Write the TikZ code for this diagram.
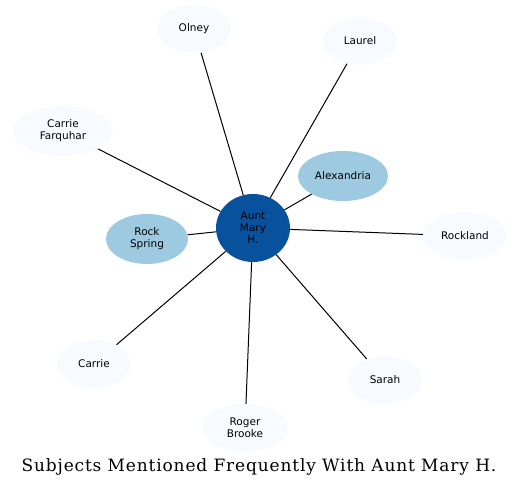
\documentclass[tikz,border=0pt]{standalone}
\usepackage{fontspec}
\setmainfont{DejaVu Serif}
\setsansfont{DejaVu Sans}
\newfontfamily\titlefont[LetterSpace=5]{DejaVu Serif}
\usepackage{xcolor}
\usepackage{tikz}
\usetikzlibrary{shapes.geometric}

\definecolor{hubblue}{HTML}{08519C}
\definecolor{nearblue}{HTML}{9ECAE1}
\definecolor{farblue}{HTML}{F7FBFF}

\begin{document}
\begin{tikzpicture}[
    x=1pt, y=-1pt,
    topic/.style={ellipse, fill=farblue, align=center, font=\sffamily\fontsize{10.5}{12}\selectfont, inner sep=0pt},
    link/.style={draw, line width=1pt}
]
\useasboundingbox (0,0) rectangle (520,489);

\node[topic, fill=hubblue, minimum width=74pt, minimum height=68pt] (aunt) at (253,228) {Aunt\\Mary\\H.};
\node[topic, fill=nearblue, minimum width=90pt, minimum height=50pt] (alexandria) at (343,176) {Alexandria};
\node[topic, fill=nearblue, minimum width=82pt, minimum height=50pt] (rockspring) at (147,239) {Rock\\Spring};
\node[topic, minimum width=74pt, minimum height=48pt] (olney) at (194,29) {Olney};
\node[topic, minimum width=74pt, minimum height=48pt] (laurel) at (360,41) {Laurel};
\node[topic, minimum width=100pt, minimum height=50pt] (farquhar) at (63,131) {Carrie\\Farquhar};
\node[topic, minimum width=84pt, minimum height=48pt] (rockland) at (465,236) {Rockland};
\node[topic, minimum width=74pt, minimum height=48pt] (carrie) at (94,364) {Carrie};
\node[topic, minimum width=74pt, minimum height=48pt] (sarah) at (385,380) {Sarah};
\node[topic, minimum width=86pt, minimum height=48pt] (roger) at (245,428) {Roger\\Brooke};

\foreach \n in {alexandria,rockspring,olney,laurel,farquhar,rockland,carrie,sarah,roger}
    \draw[link] (aunt) -- (\n);

\node[font=\titlefont\fontsize{17}{20}\selectfont] (title) at (259,467) {Subjects Mentioned Frequently With Aunt Mary H.};
\end{tikzpicture}
\end{document}
